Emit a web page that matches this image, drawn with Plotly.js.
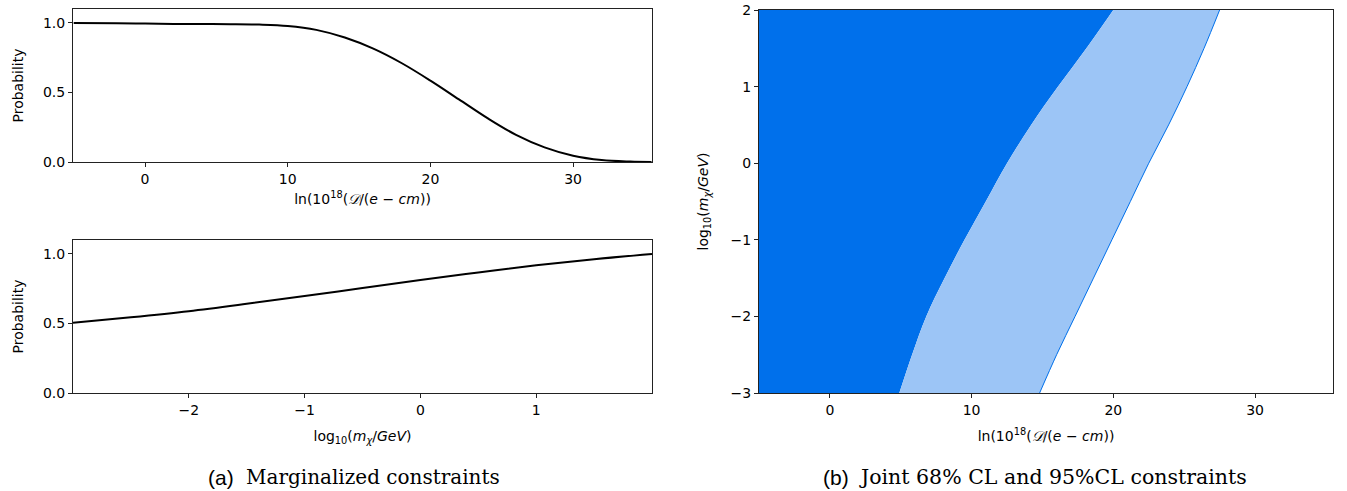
<!DOCTYPE html>
<html>
<head>
<meta charset="utf-8">
<script src="https://cdn.plot.ly/plotly-3.0.1.min.js"></script>
<style>html,body{margin:0;padding:0;background:#fff;}#chart{width:1347px;height:491px;}</style>
</head>
<body>
<div id="chart"></div>
<script>
// --- Data ---
// (a) top: marginal probability vs ln(10^18 D/(e cm))
var lnD = [-5, -2, 0, 2, 4, 6, 8, 10, 12, 14, 16, 18, 20, 22, 24, 26, 28, 30, 32, 34, 35.5];
var probLnD = [1.0, 0.998, 0.995, 0.993, 0.992, 0.991, 0.988, 0.978, 0.95, 0.895, 0.815, 0.71, 0.585, 0.45, 0.315, 0.195, 0.105, 0.045, 0.014, 0.003, 0.0];

// (a) bottom: marginal probability vs log10(m_chi/GeV)
var logM = [-3, -2.5, -2, -1.5, -1, -0.5, 0, 0.5, 1, 1.5, 2];
var probLogM = [0.505, 0.544, 0.588, 0.641, 0.697, 0.755, 0.812, 0.867, 0.918, 0.962, 1.0];

// (b) joint constraints: boundary x (lnD) at each log10(m) level
var logMLevels = [-3, -2.5, -2, -1.5, -1, -0.5, 0, 0.5, 1, 1.5, 2];
var bound68 = [4.9, 5.8, 6.8, 8.1, 9.5, 11.0, 12.5, 14.2, 16.1, 18.1, 20.0];
var bound95 = [14.8, 16.0, 17.3, 18.6, 19.9, 21.2, 22.5, 23.9, 25.2, 26.4, 27.5];

var lnDRange = [-5.05, 35.53];
var lnDRangeB = [-5, 35.5];
var logMRange = [-3, 2];
var probTicks = [0, 0.5, 1.0];
var massTicks = [-3, -2, -1, 0, 1, 2];

var leftEdge = logMLevels.map(function(){ return lnDRangeB[0]; });

var dark = '#0070eb';
var light = '#9cc5f6';

var traces = [
  {x: lnD, y: probLnD, xaxis: 'x', yaxis: 'y', mode: 'lines', line: {color: '#000', width: 2, shape: 'spline', smoothing: 1}, hoverinfo: 'skip'},
  {x: logM, y: probLogM, xaxis: 'x2', yaxis: 'y2', mode: 'lines', line: {color: '#000', width: 2, shape: 'spline', smoothing: 1}, hoverinfo: 'skip'},
  {x: leftEdge, y: logMLevels, xaxis: 'x3', yaxis: 'y3', mode: 'lines', line: {width: 0, color: dark}, hoverinfo: 'skip'},
  {x: bound68, y: logMLevels, xaxis: 'x3', yaxis: 'y3', mode: 'lines', fill: 'tonextx', fillcolor: dark, line: {width: 0, color: dark, shape: 'spline', smoothing: 1}, hoverinfo: 'skip'},
  {x: bound95, y: logMLevels, xaxis: 'x3', yaxis: 'y3', mode: 'lines', fill: 'tonextx', fillcolor: light, line: {width: 1, color: dark, shape: 'spline', smoothing: 1}, hoverinfo: 'skip'}
];

var font = {family: 'DejaVu Sans', size: 14, color: '#000'};
function ax(extra) {
  var base = {
    showline: true, mirror: true, linecolor: '#222', linewidth: 1,
    ticks: 'outside', ticklen: 4, tickwidth: 1, tickcolor: '#222',
    showgrid: false, zeroline: false, tickfont: font, fixedrange: true
  };
  for (var k in extra) base[k] = extra[k];
  return base;
}

var W = 1347, H = 491;
var xTitle = 'ln(10<sup>18</sup>(<i>𝒟</i>/(<i>e</i> − <i>cm</i>))';
var mTitle = 'log<sub>10</sub>(<i>m<sub>χ</sub></i>/<i>GeV</i>)';

var sans = {family: 'Liberation Sans', size: 21, color: '#000'};
var serifA = {family: 'DejaVu Serif', size: 20, color: '#000'};
var serifB = {family: 'DejaVu Serif', size: 20.5, color: '#000'};

var layout = {
  width: W, height: H,
  margin: {l: 0, r: 0, t: 0, b: 0},
  paper_bgcolor: '#fff', plot_bgcolor: '#fff',
  showlegend: false,
  font: font,
  xaxis: ax({domain: [73/W, 652/W], range: lnDRange, tickvals: [0, 10, 20, 30], anchor: 'y',
    title: {text: xTitle, font: font, standoff: 8}}),
  yaxis: ax({domain: [1 - 162/H, 1 - 9/H], range: [0, 1.1], tickvals: probTicks, tickformat: '.1f', anchor: 'x',
    title: {text: 'Probability', font: font, standoff: 16}}),
  xaxis2: ax({domain: [73/W, 652/W], range: [-3, 2], tickvals: [-2, -1, 0, 1], anchor: 'y2',
    title: {text: mTitle, font: font, standoff: 14}}),
  yaxis2: ax({domain: [1 - 393/H, 1 - 240/H], range: [0, 1.1], tickvals: probTicks, tickformat: '.1f', anchor: 'x2',
    title: {text: 'Probability', font: font, standoff: 16}}),
  xaxis3: ax({domain: [759/W, 1333/W], range: lnDRangeB, tickvals: [0, 10, 20, 30], anchor: 'y3',
    title: {text: xTitle, font: font, standoff: 14}}),
  yaxis3: ax({domain: [1 - 393/H, 1 - 10/H], range: logMRange, tickvals: massTicks, anchor: 'x3',
    title: {text: mTitle, font: font, standoff: 18}}),
  annotations: [
    {xref: 'paper', yref: 'paper', x: 206/W, y: 1 - 477/H, xanchor: 'left', yanchor: 'middle', showarrow: false,
     text: '(a)', font: sans},
    {xref: 'paper', yref: 'paper', x: 244/W, y: 1 - 477/H, xanchor: 'left', yanchor: 'middle', showarrow: false,
     text: 'Marginalized constraints', font: serifA},
    {xref: 'paper', yref: 'paper', x: 821/W, y: 1 - 477/H, xanchor: 'left', yanchor: 'middle', showarrow: false,
     text: '(b)', font: sans},
    {xref: 'paper', yref: 'paper', x: 857/W, y: 1 - 477/H, xanchor: 'left', yanchor: 'middle', showarrow: false,
     text: 'Joint 68% CL and 95%CL constraints', font: serifB}
  ]
};

Plotly.newPlot('chart', traces, layout, {displayModeBar: false, staticPlot: true});
</script>
</body>
</html>
